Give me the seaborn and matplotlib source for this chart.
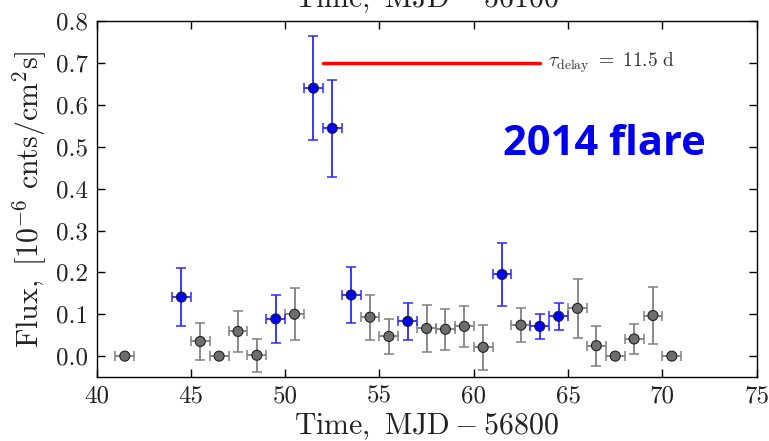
import matplotlib
matplotlib.use("Agg")
import matplotlib.pyplot as plt
import seaborn as sns
import numpy as np
import pandas as pd

# ---- data ----
time = [41.5, 44.5, 45.5, 46.5, 47.5, 48.5, 49.5, 50.5, 51.5, 52.5, 53.5, 54.5,
        55.5, 56.5, 57.5, 58.5, 59.5, 60.5, 61.5, 62.5, 63.5, 64.5, 65.5, 66.5,
        67.5, 68.5, 69.5, 70.5]
flux = [0.0, 0.141, 0.035, 0.0, 0.059, 0.002, 0.089, 0.100, 0.640, 0.544, 0.146, 0.093,
        0.047, 0.083, 0.066, 0.064, 0.071, 0.021, 0.195, 0.074, 0.071, 0.095, 0.114, 0.025,
        0.0, 0.041, 0.097, 0.0]
flux_err = [0.0, 0.070, 0.044, 0.0, 0.048, 0.040, 0.057, 0.062, 0.125, 0.115, 0.067, 0.054,
            0.041, 0.045, 0.055, 0.049, 0.049, 0.054, 0.075, 0.040, 0.030, 0.033, 0.070, 0.048,
            0.0, 0.035, 0.068, 0.0]
time_err = [0.5] * len(time)
group = ["gray", "blue", "gray", "gray", "gray", "gray", "blue", "gray", "blue", "blue", "blue", "gray",
         "gray", "blue", "gray", "gray", "gray", "gray", "blue", "gray", "blue", "blue", "gray", "gray",
         "gray", "gray", "gray", "gray"]

delay_start, delay_end, delay_level = 52.0, 63.5, 0.7
delay_label = r"$\tau_{\rm delay}\ =\ 11.5\ {\rm d}$"
flare_label = "2014 flare"
xticks = [40, 45, 50, 55, 60, 65, 70, 75]
yticks = [0.0, 0.1, 0.2, 0.3, 0.4, 0.5, 0.6, 0.7, 0.8]

df = pd.DataFrame({"time": time, "flux": flux, "flux_err": flux_err,
                   "time_err": time_err, "group": group})

sns.set_style("ticks")
plt.rcParams["font.family"] = ["cmr10", "DejaVu Serif"]
plt.rcParams["mathtext.fontset"] = "cm"
plt.rcParams["axes.formatter.use_mathtext"] = True
plt.rcParams["axes.unicode_minus"] = True

fig = plt.figure(figsize=(7.69, 4.41), dpi=100)
ax = fig.add_axes([0.1255, 0.145, 0.984 - 0.1255, 0.952 - 0.145])

colors = {"gray": "#6e6e6e", "blue": "#0000ff"}
ecolors = {"gray": "#808080", "blue": "#2a2aff"}
for g in ["gray", "blue"]:
    sub = df[df["group"] == g]
    ax.errorbar(sub["time"], sub["flux"], xerr=sub["time_err"], yerr=sub["flux_err"],
                fmt="none", ecolor=ecolors[g], elinewidth=1.3, capsize=3.5,
                capthick=1.1, zorder=2)

sns.scatterplot(data=df, x="time", y="flux", hue="group", palette=colors,
                s=52, edgecolor="#222222", linewidth=0.8, legend=False, ax=ax, zorder=3)

ax.plot([delay_start, delay_end], [delay_level, delay_level], color="red", lw=2.5, zorder=2)
ax.text(delay_end + 0.45, delay_level, delay_label, color="#333333", fontsize=14,
        va="center", ha="left")
ax.text(61.55, 0.505, flare_label, color="#0000ee", fontsize=30, fontweight="bold",
        family=["Open Sans", "DejaVu Sans"], va="center", ha="left")

ax.set_xlim(40, 75)
ax.set_ylim(-0.05, 0.8)
ax.set_xticks(xticks)
ax.set_yticks(yticks)
ax.set_xticklabels([str(t) for t in xticks])
ax.set_yticklabels([f"{t:.1f}" for t in yticks])
ax.tick_params(direction="in", length=5.5, width=1, top=True, right=True,
               labelsize=18, colors="black", labelcolor="#222222")
ax.tick_params(axis="x", pad=6)
ax.tick_params(axis="y", pad=6)
for s in ax.spines.values():
    s.set_visible(True)
    s.set_color("black")
    s.set_linewidth(1.0)

ax.set_xlabel(r"$\mathrm{Time,\ MJD} - 56800$", fontsize=21.5, labelpad=2, color="#222222")
ax.set_ylabel(r"$\mathrm{Flux,}\ [10^{-6}\ \mathrm{cnts/cm^2s}]$", fontsize=21.5, labelpad=5,
              color="#222222")
fig.text((0.1255 + 0.984) / 2, 1 - 7 / 441, r"$\mathrm{Time,\ MJD} - 56100$", fontsize=21.5,
         ha="center", va="baseline", color="#222222")

fig.savefig("out.png", dpi=100)
